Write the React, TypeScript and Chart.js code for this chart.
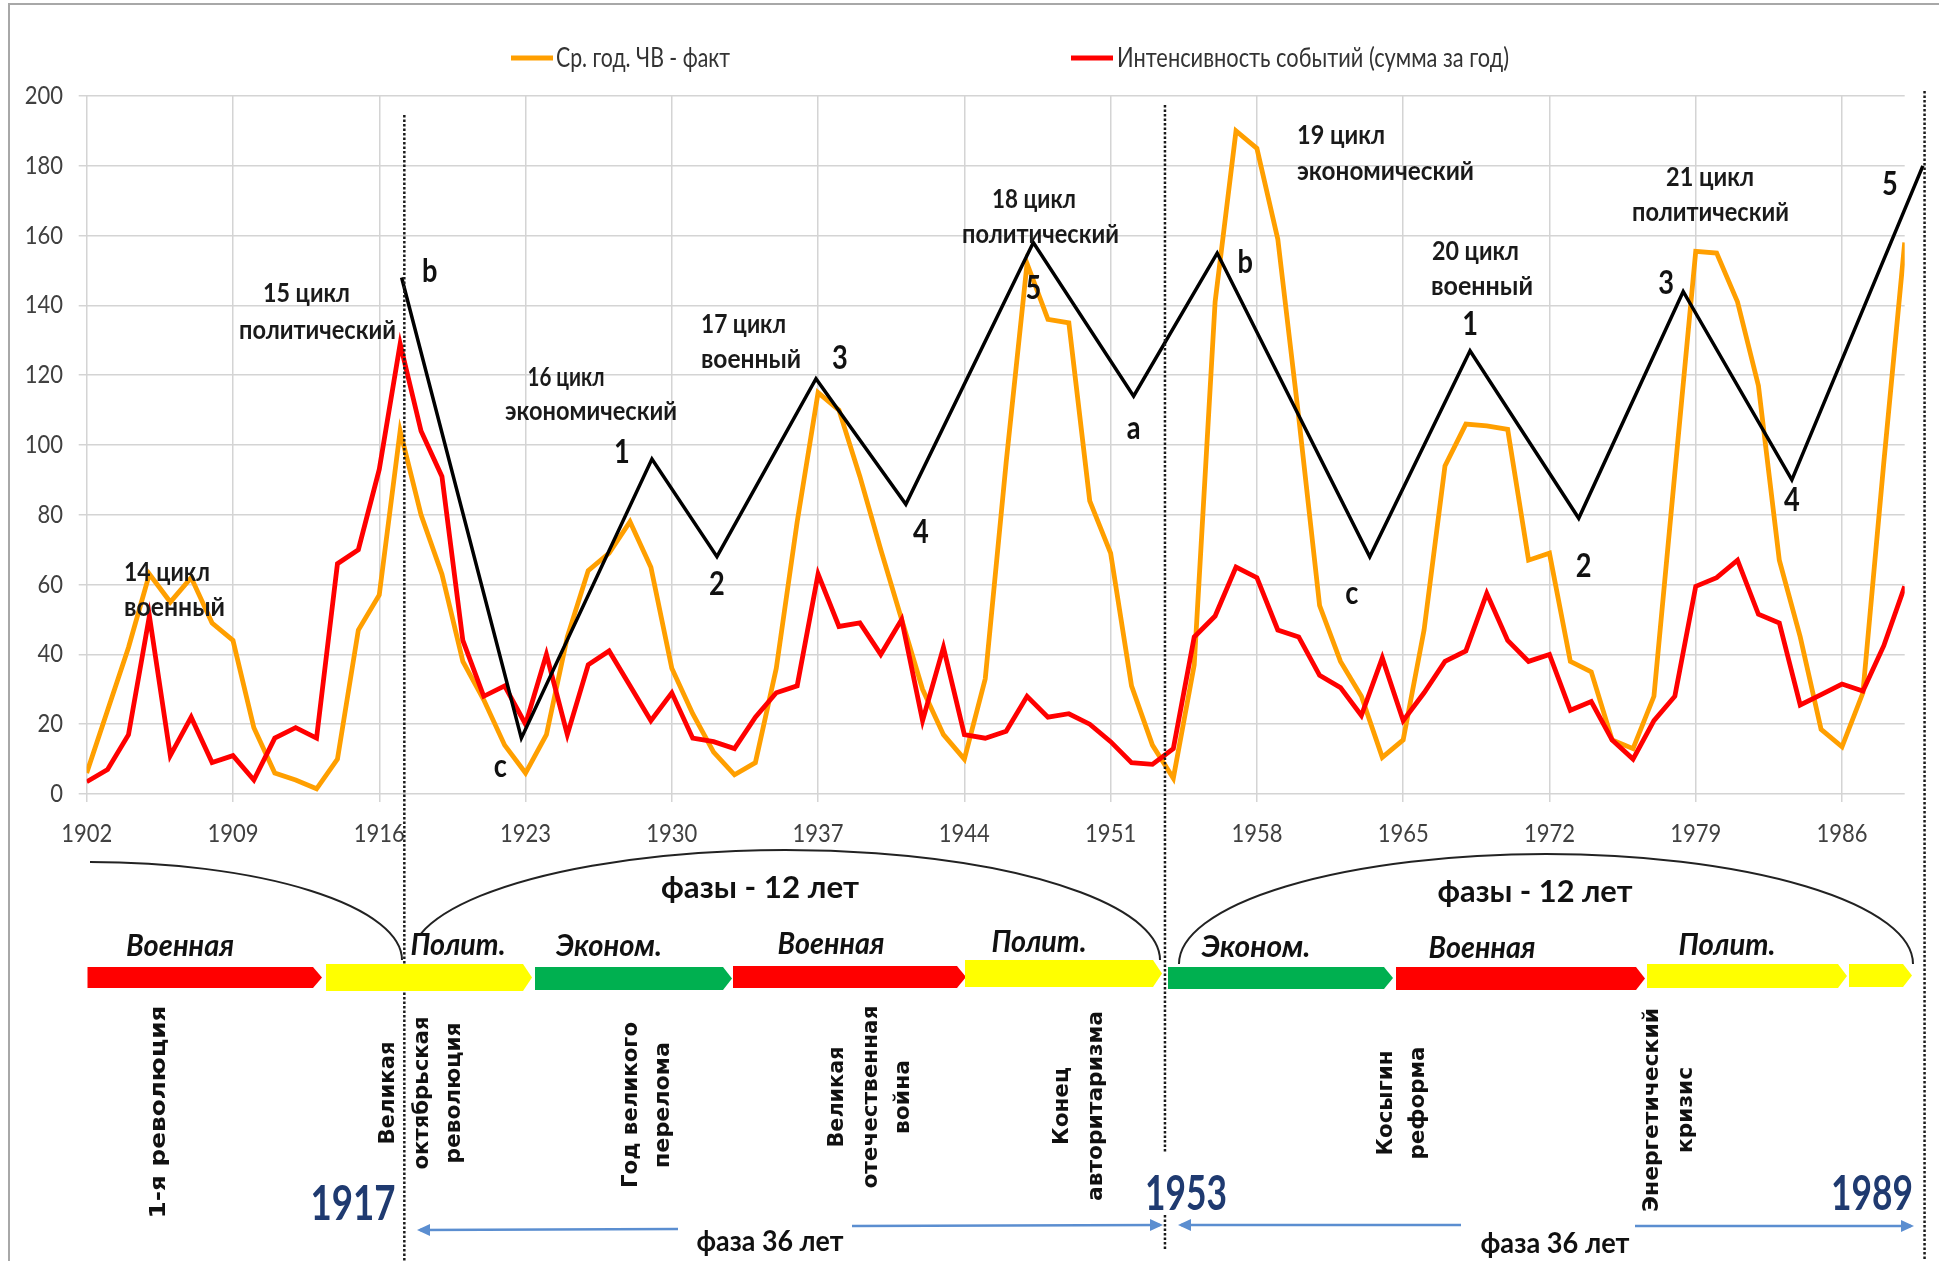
import React, { useEffect, useRef } from "react";
import { Chart, registerables } from "chart.js";

Chart.register(...registerables);

// ---------- DATA ----------
const years = [
  1902, 1903, 1904, 1905, 1906, 1907, 1908, 1909, 1910, 1911, 1912, 1913, 1914, 1915, 1916,
  1917, 1918, 1919, 1920, 1921, 1922, 1923, 1924, 1925, 1926, 1927, 1928, 1929, 1930, 1931,
  1932, 1933, 1934, 1935, 1936, 1937, 1938, 1939, 1940, 1941, 1942, 1943, 1944, 1945, 1946,
  1947, 1948, 1949, 1950, 1951, 1952, 1953, 1954, 1955, 1956, 1957, 1958, 1959, 1960, 1961,
  1962, 1963, 1964, 1965, 1966, 1967, 1968, 1969, 1970, 1971, 1972, 1973, 1974, 1975, 1976,
  1977, 1978, 1979, 1980, 1981, 1982, 1983, 1984, 1985, 1986, 1987, 1988, 1989,
];

// Ср. год. ЧВ - факт (orange)
const chvFact = [
  6, 24, 42, 63, 55, 62, 49, 44, 19, 6, 4, 1.5, 10, 47, 57,
  104, 80, 63, 38, 27, 14, 6, 17, 45, 64, 69, 78, 65, 36, 23,
  12, 5.5, 9, 36, 78, 115, 110, 91, 70, 50, 30, 17, 10, 33, 95,
  152, 136, 135, 84, 69, 31, 14, 4.5, 37, 141, 190, 185, 159, 108, 54,
  38, 28, 10.5, 15.5, 47, 94, 106, 105.5, 104.5, 67, 69, 38, 35, 15.5, 13,
  28, 92, 155.5, 155, 141, 117, 67, 45, 18.5, 13.5, 29, 95, 158,
];

// Интенсивность событий (сумма за год) (red)
const intensity = [
  3.5, 7, 17, 51, 11, 22, 9, 11, 4, 16, 19, 16, 66, 70, 93,
  129, 104, 91, 44, 28, 31, 20, 40, 17, 37, 41, 31, 21, 29, 16,
  15, 13, 22, 29, 31, 63, 48, 49, 40, 50, 21, 42, 17, 16, 18,
  28, 22, 23, 20, 15, 9, 8.5, 13, 45, 51, 65, 62, 47, 45, 34,
  30.5, 22.5, 39, 21, 29, 38, 41, 57.5, 44, 38, 40, 24, 26.5, 15.5, 10,
  21, 28, 59.5, 62, 67, 51.5, 49, 25.5, 28.5, 31.5, 29.5, 42.5, 59.5,
];

// black wave (zig-zag)
const waveYears = [1917.07, 1922.8, 1929.05, 1932.16, 1936.9, 1941.2, 1947.3, 1952.1, 1956.1, 1963.4, 1968.2, 1973.4, 1978.4, 1983.6, 1989.87];
const waveValues = [148, 16, 96, 68, 119, 83, 158, 114, 155, 68, 127, 79, 144, 90, 180];
const waveLabels = ["b", "c", "1", "2", "3", "4", "5", "a", "b", "c", "1", "2", "3", "4", "5"];

const xTickYears = [1902, 1909, 1916, 1923, 1930, 1937, 1944, 1951, 1958, 1965, 1972, 1979, 1986];
const yTickValues = [0, 20, 40, 60, 80, 100, 120, 140, 160, 180, 200];
const epochYears = [1917.2, 1953.6, 1989.95];
const epochLabels = ["1917", "1953", "1989"];
const seriesNames = ["Ср. год. ЧВ - факт", "Интенсивность событий (сумма за год)"];

const cycleTexts = [
  ["14 цикл", "военный"],
  ["15 цикл", "политический"],
  ["16 цикл", "экономический"],
  ["17 цикл", "военный"],
  ["18 цикл", "политический"],
  ["19 цикл", "экономический"],
  ["20 цикл", "военный"],
  ["21 цикл", "политический"],
];
const phaseNames = ["Военная", "Полит.", "Эконом.", "Военная", "Полит.", "Эконом.", "Военная", "Полит."];
const eventTexts = [
  ["1-я революция"],
  ["Великая", "октябрьская", "революция"],
  ["Год великого", "перелома"],
  ["Великая", "отечественная", "война"],
  ["Конец", "авторитаризма"],
  ["Косыгин", "реформа"],
  ["Энергетический", "кризис"],
];
const phaseSpanText = "фазы - 12 лет";
const phase36Text = "фаза 36 лет";

// ---------- DRAW HELPERS ----------
const CAL = '"Lato", "Open Sans", sans-serif';
const VER = '"DejaVu Sans", sans-serif';

function drawText(
  ctx: CanvasRenderingContext2D,
  s: string,
  x: number,
  y: number,
  font: string,
  color: string,
  align: CanvasTextAlign = "center",
  w?: number,
  sx = 1,
  rot = 0
) {
  ctx.save();
  ctx.font = font;
  ctx.fillStyle = color;
  ctx.textAlign = align;
  ctx.textBaseline = "middle";
  let k = sx;
  if (w) {
    const m = ctx.measureText(s).width;
    if (m > 0) k = w / m;
  }
  ctx.translate(x, y);
  if (rot) ctx.rotate(rot);
  ctx.scale(k, 1);
  ctx.fillText(s, 0, 0);
  ctx.restore();
}

function arrowHead(ctx: CanvasRenderingContext2D, x: number, y: number, dir: number) {
  ctx.beginPath();
  ctx.moveTo(x, y);
  ctx.lineTo(x - dir * 13, y - 6);
  ctx.lineTo(x - dir * 13, y + 6);
  ctx.closePath();
  ctx.fill();
}

const overlay = {
  id: "overlay",
  afterDraw(chart: any) {
    const ctx: CanvasRenderingContext2D = chart.ctx;
    const xs = chart.scales.x;
    const ys = chart.scales.y;

    // frame
    ctx.save();
    ctx.strokeStyle = "#a8a8a8";
    ctx.lineWidth = 2;
    ctx.beginPath();
    ctx.moveTo(9, 1261);
    ctx.lineTo(9, 4);
    ctx.lineTo(1939, 4);
    ctx.stroke();
    ctx.restore();

    // legend
    ctx.save();
    ctx.lineWidth = 5;
    ctx.strokeStyle = "#FF9F00";
    ctx.beginPath();
    ctx.moveTo(511, 58);
    ctx.lineTo(553, 58);
    ctx.stroke();
    ctx.strokeStyle = "#FF0000";
    ctx.beginPath();
    ctx.moveTo(1071, 58);
    ctx.lineTo(1113, 58);
    ctx.stroke();
    ctx.restore();
    drawText(ctx, seriesNames[0], 556, 59, `26px ${CAL}`, "#333", "left", 174);
    drawText(ctx, seriesNames[1], 1117, 59, `26px ${CAL}`, "#333", "left", 392);

    // tick labels
    yTickValues.forEach((v) =>
      drawText(ctx, String(v), 63, ys.getPixelForValue(v), `25px ${CAL}`, "#404040", "right", undefined, 0.88)
    );
    xTickYears.forEach((v) =>
      drawText(ctx, String(v), xs.getPixelForValue(v), 834, `25px ${CAL}`, "#404040", "center", undefined, 0.88)
    );

    // dotted epoch lines
    const tops = [115, 105, 91];
    const segs: number[][][] = [
      [[tops[0], 1261]],
      [[tops[1], 1153], [1215, 1250]],
      [[tops[2], 1261]],
    ];
    ctx.save();
    ctx.strokeStyle = "#1a1a1a";
    ctx.lineWidth = 2.5;
    ctx.setLineDash([2.5, 2]);
    epochYears.forEach((yr, i) => {
      const px = xs.getPixelForValue(yr);
      segs[i].forEach(([a, b]) => {
        ctx.beginPath();
        ctx.moveTo(px, a);
        ctx.lineTo(px, b);
        ctx.stroke();
      });
    });
    ctx.restore();

    // wave labels
    const offs = [
      [28, -6], [-21, 29], [-30, -6], [0, 28], [24, -20], [15, 28], [0, 46], [0, 33],
      [28, 10], [-18, 37], [0, -26], [5, 48], [-17, -8], [0, 21], [-33, 19],
    ];
    waveLabels.forEach((s, i) => {
      const px = xs.getPixelForValue(waveYears[i]) + offs[i][0];
      const py = ys.getPixelForValue(waveValues[i]) + offs[i][1];
      drawText(ctx, s, px, py, `bold 32px ${CAL}`, "#111", "center", undefined, 0.85);
    });

    // cycle labels: [cx1, y1, w1, cx2, y2, w2]
    const cyc = [
      [167, 573, 86, 174.5, 608, 101],
      [306.5, 294, 87, 317.5, 331, 157],
      [566, 378, 77, 591, 412, 172],
      [743.5, 325, 85, 751, 360, 100],
      [1034, 200, 84, 1040.5, 235, 157],
      [1341, 136, 88, 1385.5, 172, 177],
      [1475.5, 252, 87, 1482, 287, 102],
      [1710, 178, 88, 1710.5, 213, 157],
    ];
    cycleTexts.forEach((t, i) => {
      const c = cyc[i];
      drawText(ctx, t[0], c[0], c[1], `bold 26px ${CAL}`, "#1a1a1a", "center", c[2]);
      drawText(ctx, t[1], c[3], c[4], `bold 26px ${CAL}`, "#1a1a1a", "center", c[5]);
    });

    // arcs
    ctx.save();
    ctx.strokeStyle = "#222";
    ctx.lineWidth = 2;
    ctx.beginPath();
    ctx.ellipse(90, 960, 312, 98, 0, -Math.PI / 2, 0);
    ctx.stroke();
    ctx.beginPath();
    ctx.ellipse(785, 960, 375, 110, 0, Math.PI + 0.245, 2 * Math.PI);
    ctx.stroke();
    ctx.beginPath();
    ctx.ellipse(1546, 964, 367, 110, 0, Math.PI, 2 * Math.PI);
    ctx.stroke();
    ctx.restore();

    drawText(ctx, phaseSpanText, 760, 888, `bold 30px ${CAL}`, "#111", "center", 198);
    drawText(ctx, phaseSpanText, 1535, 892, `bold 30px ${CAL}`, "#111", "center", 195);

    // phase arrows [x0, x1, y0, y1, color]
    const bars: [number, number, number, number, string][] = [
      [87.5, 322, 967, 988, "#FF0000"],
      [326, 532, 964, 991, "#FFFF00"],
      [535, 732, 967, 990, "#00B050"],
      [733, 966, 966, 988, "#FF0000"],
      [965, 1162, 960, 987, "#FFFF00"],
      [1168, 1393, 967, 989, "#00B050"],
      [1396, 1645, 967, 990, "#FF0000"],
      [1647, 1847, 964, 988, "#FFFF00"],
      [1849, 1912, 964, 987, "#FFFF00"],
    ];
    ctx.save();
    bars.forEach(([a, b, t, bt, col]) => {
      const tip = 9;
      ctx.fillStyle = col;
      ctx.beginPath();
      ctx.moveTo(a, t);
      ctx.lineTo(b - tip, t);
      ctx.lineTo(b, (t + bt) / 2);
      ctx.lineTo(b - tip, bt);
      ctx.lineTo(a, bt);
      ctx.closePath();
      ctx.fill();
    });
    ctx.restore();

    // phase names [cx, cy, w]
    const pn = [
      [180, 946, 108], [458, 945, 95], [609, 946, 106], [831, 944, 107],
      [1039, 942, 95], [1256, 947, 109], [1482, 948, 107], [1727, 945, 97],
    ];
    phaseNames.forEach((s, i) =>
      drawText(ctx, s, pn[i][0], pn[i][1], `italic bold 30px ${CAL}`, "#111", "center", pn[i][2])
    );

    // vertical event texts: column cx, cy, lengths
    const ev = [
      { cx: [160], cy: 1112, w: [213] },
      { cx: [389, 423, 455], cy: 1093, w: [103, 153, 141] },
      { cx: [632, 664], cy: 1105, w: [166, 126] },
      { cx: [838, 872, 904], cy: 1097, w: [101, 183, 74] },
      { cx: [1063, 1097], cy: 1106, w: [78, 190] },
      { cx: [1387, 1419], cy: 1103, w: [105, 113] },
      { cx: [1653, 1687], cy: 1110, w: [204, 86] },
    ];
    eventTexts.forEach((lines, i) => {
      lines.forEach((s, j) =>
        drawText(ctx, s, ev[i].cx[j], ev[i].cy, `bold 21px ${VER}`, "#111", "center", ev[i].w[j], 1, -Math.PI / 2)
      );
    });

    // epoch years
    const ep = [[353, 1205, 85], [1186, 1195, 82], [1872, 1195, 82]];
    epochLabels.forEach((s, i) =>
      drawText(ctx, s, ep[i][0], ep[i][1], `bold 48px ${CAL}`, "#1F3A70", "center", ep[i][2])
    );

    // blue arrows
    ctx.save();
    ctx.strokeStyle = "#5B8ED0";
    ctx.fillStyle = "#5B8ED0";
    ctx.lineWidth = 2.5;
    const lines: [number, number, number, number][] = [
      [420, 1230, 678, 1229],
      [852, 1226, 1160, 1225],
      [1181, 1225, 1461, 1225],
      [1635, 1226, 1911, 1226],
    ];
    lines.forEach(([a, b, c, d]) => {
      ctx.beginPath();
      ctx.moveTo(a, b);
      ctx.lineTo(c, d);
      ctx.stroke();
    });
    arrowHead(ctx, 417, 1230, -1);
    arrowHead(ctx, 1163, 1225, 1);
    arrowHead(ctx, 1178, 1225, -1);
    arrowHead(ctx, 1914, 1226, 1);
    ctx.restore();

    drawText(ctx, phase36Text, 770, 1242, `bold 28px ${CAL}`, "#111", "center", 147);
    drawText(ctx, phase36Text, 1555, 1244, `bold 28px ${CAL}`, "#111", "center", 149);
  },
};

export default function App() {
  const ref = useRef<HTMLCanvasElement>(null);
  useEffect(() => {
    document.body.style.margin = "0";
    const canvas = ref.current;
    if (!canvas) return;
    const gridCfg = { color: "#d4d4d4", lineWidth: 1.5, tickLength: 8, drawTicks: true };
    const chart = new Chart(canvas, {
      type: "line",
      data: {
        datasets: [
          {
            label: "wave",
            data: waveYears.map((x, i) => ({ x, y: waveValues[i] })),
            borderColor: "#000000",
            borderWidth: 3.5,
            pointRadius: 0,
            tension: 0,
            clip: false as any,
          },
          {
            label: seriesNames[1],
            data: years.map((x, i) => ({ x, y: intensity[i] })),
            borderColor: "#FF0000",
            borderWidth: 4.8,
            pointRadius: 0,
            tension: 0,
          },
          {
            label: seriesNames[0],
            data: years.map((x, i) => ({ x, y: chvFact[i] })),
            borderColor: "#FF9F00",
            borderWidth: 4.8,
            pointRadius: 0,
            tension: 0,
          },
        ],
      },
      options: {
        responsive: false,
        animation: false,
        devicePixelRatio: 1,
        layout: { padding: { left: 86.7, right: 34.3, top: 96, bottom: 467 } },
        plugins: { legend: { display: false }, tooltip: { enabled: false } },
        scales: {
          x: {
            type: "linear",
            min: 1902,
            max: 1989,
            afterBuildTicks: (a: any) => {
              a.ticks = xTickYears.map((v) => ({ value: v }));
            },
            afterFit: (s: any) => {
              s.height = 0;
            },
            ticks: { display: false },
            grid: gridCfg,
            border: { display: false },
          },
          y: {
            min: 0,
            max: 200,
            afterBuildTicks: (a: any) => {
              a.ticks = yTickValues.map((v) => ({ value: v }));
            },
            afterFit: (s: any) => {
              s.width = 0;
            },
            ticks: { display: false },
            grid: gridCfg,
            border: { display: false },
          },
        },
      } as any,
      plugins: [overlay],
    });
    return () => chart.destroy();
  }, []);
  return (
    <div style={{ position: "relative", width: 1939, height: 1261, background: "#fff" }}>
      <canvas ref={ref} width={1939} height={1261} style={{ display: "block", width: 1939, height: 1261 }} />
    </div>
  );
}
